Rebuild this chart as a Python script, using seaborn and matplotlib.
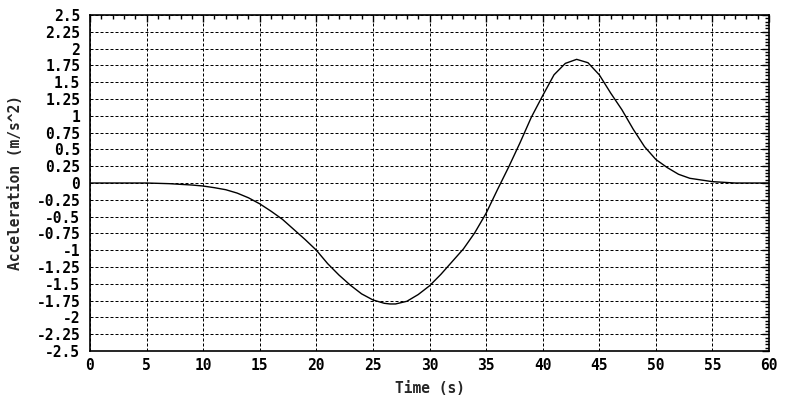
import numpy as np
import pandas as pd
import matplotlib
matplotlib.use('Agg')
import matplotlib.pyplot as plt
from matplotlib.ticker import MultipleLocator
import seaborn as sns

# values
time_s = [0, 3, 5, 6, 7, 8, 9, 10, 11, 12, 13, 14, 15, 16, 17, 18, 19, 20,
          21, 22, 23, 24, 25, 26, 26.5, 27, 28, 29, 30, 31, 32, 33, 34, 35, 36,
          37, 38, 39, 40, 41, 42, 43, 44, 45, 46, 47, 48, 49, 50, 51, 52, 53,
          54, 55, 56, 57, 60]
accel = [0, 0, 0, -0.005, -0.01, -0.02, -0.03, -0.045, -0.07, -0.1, -0.15,
         -0.22, -0.31, -0.42, -0.54, -0.69, -0.84, -1.0, -1.2, -1.37, -1.52,
         -1.65, -1.74, -1.79, -1.8, -1.8, -1.76, -1.66, -1.53, -1.36, -1.17,
         -0.98, -0.74, -0.45, -0.1, 0.24, 0.6, 0.98, 1.3, 1.61, 1.78, 1.84,
         1.79, 1.61, 1.34, 1.09, 0.8, 0.54, 0.35, 0.23, 0.13, 0.07, 0.045,
         0.02, 0.01, 0, 0]

df = pd.DataFrame({'Time (s)': time_s, 'Acceleration (m/s^2)': accel})

sns.set_style('white')
plt.rcParams['font.family'] = ['DejaVu Sans Mono']
plt.rcParams['font.weight'] = 'bold'
plt.rcParams['font.size'] = 10.5

fig = plt.figure(figsize=(8, 4), dpi=100)
ax = fig.add_axes([0.1125, 0.1225, 0.8488, 0.84])

sns.lineplot(data=df, x='Time (s)', y='Acceleration (m/s^2)', color='black',
             linewidth=1.0, ax=ax)

ax.set_xlim(0, 60)
ax.set_ylim(-2.5, 2.5)
ax.xaxis.set_major_locator(MultipleLocator(5))
ax.xaxis.set_minor_locator(MultipleLocator(1))
ax.yaxis.set_major_locator(MultipleLocator(0.25))
ax.yaxis.set_minor_locator(MultipleLocator(0.05))
ax.yaxis.set_major_formatter(plt.FuncFormatter(lambda v, p: f'{v:g}'))

ax.tick_params(which='both', direction='in', top=True, right=True, colors='black',
               labelsize=10.5)
ax.tick_params(axis='y', which='both', pad=7)
ax.tick_params(axis='x', which='both', pad=5)
ax.tick_params(which='major', length=5, width=1)
ax.tick_params(which='minor', length=3, width=1)
ax.grid(True, which='major', color='black', linestyle=(0, (3, 2)), linewidth=0.72)
for sp in ax.spines.values():
    sp.set_color('black')
    sp.set_linewidth(1.2)

ax.set_xlabel('Time (s)', fontweight='bold', labelpad=5.5)
ax.set_ylabel('Acceleration (m/s^2)', fontweight='bold', labelpad=10)

fig.savefig('out.png', dpi=100, facecolor='white')
